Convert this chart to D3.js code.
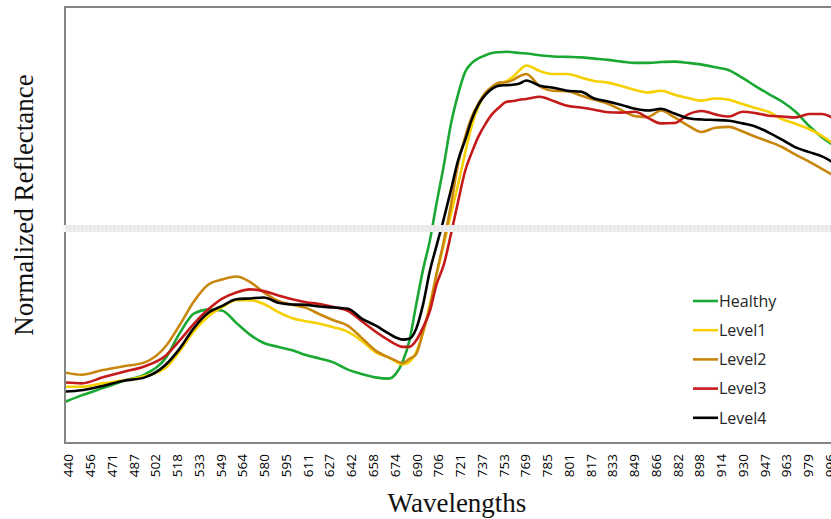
<!DOCTYPE html>
<html>
<head>
<meta charset="utf-8">
<script src="https://cdn.jsdelivr.net/npm/d3@7/dist/d3.min.js"></script>
<style>
  html, body { margin: 0; padding: 0; background: #fff; }
  svg { display: block; }
</style>
</head>
<body>
<svg id="chart" width="831" height="519"></svg>
<script>
// ---- Data ----
const tickLabels = [440,456,471,487,502,518,533,549,564,580,595,611,627,642,658,674,690,706,
  721,737,753,769,785,801,817,833,849,866,882,898,914,930,947,963,979,996];

const wavelengths = [438,450,465,480,495,510,520,530,540,550,560,570,580,590,600,610,620,630,640,650,
  660,670,675,680,685,690,695,700,705,710,715,720,725,730,735,740,745,750,755,760,765,770,
  780,790,800,810,820,830,840,850,860,870,880,890,900,910,920,930,940,950,960,970,980,990,1000];

const healthy = [0.096,0.111,0.128,0.145,0.160,0.199,0.256,0.302,0.311,0.309,0.280,0.252,0.233,0.224,0.216,0.205,0.197,0.188,0.171,0.161,
  0.153,0.150,0.161,0.189,0.238,0.322,0.403,0.471,0.559,0.646,0.744,0.814,0.865,0.886,0.897,0.904,0.909,0.911,0.912,0.911,0.909,0.908,
  0.904,0.901,0.900,0.899,0.896,0.893,0.889,0.886,0.886,0.888,0.889,0.886,0.882,0.876,0.869,0.851,0.832,0.814,0.796,0.772,0.739,0.713,0.692];

const level1 = [0.131,0.131,0.139,0.146,0.156,0.176,0.214,0.261,0.295,0.316,0.333,0.333,0.324,0.305,0.291,0.284,0.278,0.270,0.259,0.238,
  0.212,0.199,0.190,0.183,0.189,0.212,0.256,0.322,0.392,0.462,0.534,0.604,0.676,0.741,0.786,0.814,0.831,0.837,0.843,0.853,0.869,0.880,
  0.867,0.860,0.860,0.852,0.844,0.840,0.832,0.823,0.817,0.821,0.812,0.804,0.798,0.803,0.800,0.790,0.781,0.772,0.755,0.744,0.732,0.716,0.695];

const level2 = [0.164,0.159,0.170,0.179,0.188,0.226,0.275,0.331,0.369,0.381,0.388,0.375,0.351,0.331,0.322,0.315,0.300,0.286,0.273,0.245,
  0.216,0.199,0.192,0.186,0.196,0.207,0.259,0.316,0.395,0.469,0.555,0.653,0.713,0.761,0.793,0.817,0.831,0.840,0.841,0.846,0.855,0.860,
  0.831,0.821,0.820,0.810,0.800,0.791,0.776,0.762,0.760,0.775,0.759,0.740,0.725,0.735,0.737,0.726,0.714,0.703,0.690,0.672,0.656,0.639,0.622];

const level3 = [0.141,0.139,0.153,0.166,0.179,0.204,0.239,0.279,0.311,0.336,0.351,0.358,0.354,0.344,0.335,0.328,0.324,0.317,0.308,0.284,
  0.260,0.239,0.230,0.224,0.224,0.239,0.269,0.307,0.370,0.415,0.487,0.564,0.634,0.678,0.716,0.744,0.767,0.782,0.795,0.797,0.800,0.802,
  0.807,0.797,0.786,0.782,0.777,0.771,0.770,0.772,0.758,0.745,0.746,0.766,0.774,0.766,0.761,0.772,0.769,0.763,0.761,0.759,0.767,0.767,0.755];

const level4 = [0.120,0.123,0.133,0.145,0.153,0.183,0.220,0.269,0.303,0.319,0.335,0.337,0.339,0.327,0.323,0.322,0.318,0.316,0.313,0.290,
  0.274,0.255,0.246,0.241,0.243,0.266,0.322,0.400,0.460,0.522,0.590,0.660,0.706,0.755,0.790,0.812,0.826,0.833,0.834,0.835,0.838,0.845,
  0.833,0.828,0.821,0.819,0.803,0.796,0.788,0.779,0.775,0.779,0.768,0.757,0.754,0.753,0.751,0.745,0.738,0.724,0.707,0.689,0.678,0.668,0.652];

const seriesNames = ["Healthy","Level1","Level2","Level3","Level4"];
const seriesValues = [healthy, level1, level2, level3, level4];
const seriesColors = ["#1aa832","#f7d000","#c8870c","#c41a1a","#000000"];
const gridValue = 0.5;

// ---- Layout ----
const W = 831, H = 519;
const plot = { left: 65, top: 7, bottom: 443, right: 900 };
const firstTickX = 68, tickStep = 21.76;

const svg = d3.select("#chart");

const x = d3.scaleLinear()
  .domain(tickLabels)
  .range(tickLabels.map((d, i) => firstTickX + i * tickStep));
const y = d3.scaleLinear().domain([0, 1]).range([plot.bottom, 14]);

svg.append("defs").append("clipPath").attr("id", "clip")
  .append("rect").attr("x", plot.left + 1).attr("y", plot.top)
  .attr("width", plot.right - plot.left).attr("height", plot.bottom - plot.top);

// Lines
const line = d3.line().x((d, i) => x(wavelengths[i])).y(d => y(d)).curve(d3.curveMonotoneX);
const lines = svg.append("g").attr("clip-path", "url(#clip)");
seriesValues.forEach((vals, k) => {
  lines.append("path").datum(vals)
    .attr("d", line)
    .attr("fill", "none")
    .attr("stroke", seriesColors[k])
    .attr("stroke-width", 2.6)
    .attr("stroke-linejoin", "round");
});

// Frame
svg.append("rect")
  .attr("x", plot.left).attr("y", plot.top)
  .attr("width", plot.right - plot.left).attr("height", plot.bottom - plot.top)
  .attr("fill", "none").attr("stroke", "#858585").attr("stroke-width", 2);

// Light horizontal band (gridline)
const gy = y(gridValue);
svg.append("rect").attr("x", plot.left - 2).attr("y", gy - 3.5)
  .attr("width", W).attr("height", 7).attr("fill", "#fafafa");
svg.append("rect").attr("x", plot.left + 1).attr("y", gy - 3.5)
  .attr("width", W).attr("height", 7).attr("fill", "#eeeeee");
svg.append("line").attr("x1", plot.left + 1).attr("x2", W).attr("y1", gy).attr("y2", gy)
  .attr("stroke", "#e2e2e2").attr("stroke-width", 7).attr("stroke-dasharray", "1,3");

// X axis labels
const xAxis = d3.axisBottom(x).tickValues(tickLabels).tickSize(0).tickFormat(d3.format("d"));
const gx = svg.append("g").attr("transform", `translate(0,${plot.bottom})`).call(xAxis);
gx.select(".domain").remove();
gx.selectAll("text")
  .attr("transform", "rotate(-90)")
  .attr("x", -11).attr("y", 0).attr("dy", "0.36em")
  .style("text-anchor", "end")
  .style("font-family", "'Open Sans', sans-serif")
  .style("font-size", "13.5px")
  .attr("fill", "#000");

// Axis titles
svg.append("text")
  .attr("transform", "translate(33,205) rotate(-90)")
  .attr("text-anchor", "middle")
  .style("font-family", "'Liberation Serif', 'Times New Roman', serif")
  .style("font-size", "27px")
  .attr("fill", "#111")
  .text("Normalized Reflectance");

svg.append("text")
  .attr("x", 457).attr("y", 512)
  .attr("text-anchor", "middle")
  .style("font-family", "'Liberation Serif', 'Times New Roman', serif")
  .style("font-size", "27px")
  .attr("fill", "#111")
  .text("Wavelengths");

// Legend
const legend = svg.append("g").attr("transform", "translate(693,301)");
seriesNames.forEach((name, k) => {
  const g = legend.append("g").attr("transform", `translate(0,${k * 29.2})`);
  g.append("line").attr("x1", 0).attr("x2", 25).attr("y1", 0).attr("y2", 0)
    .attr("stroke", seriesColors[k]).attr("stroke-width", 2.6);
  g.append("text").attr("x", 26).attr("y", 0).attr("dy", "0.36em")
    .style("font-family", "'Open Sans', sans-serif")
    .style("font-size", "16px")
    .attr("fill", "#262626")
    .text(name);
});
</script>
</body>
</html>
